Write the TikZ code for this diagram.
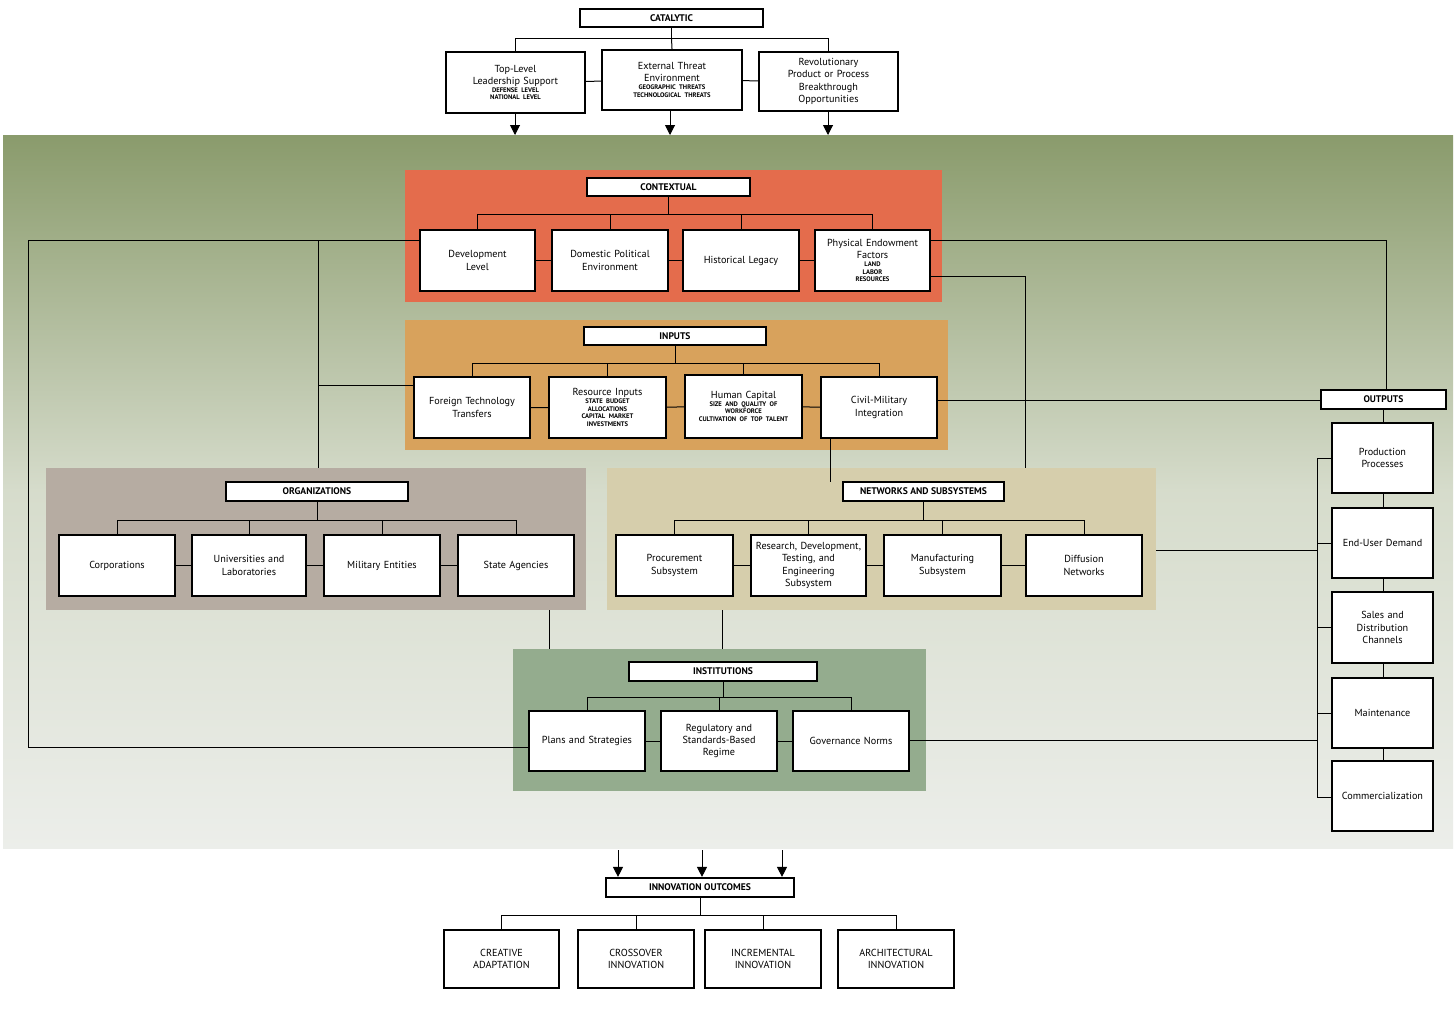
\documentclass[tikz,border=0pt]{standalone}
\usepackage{fontspec}
\setmainfont{PT Sans}
\usetikzlibrary{arrows.meta}
\hyphenpenalty=10000\relax
\definecolor{ctx}{RGB}{228,108,76}
\definecolor{inp}{RGB}{216,162,92}
\definecolor{org}{RGB}{182,172,162}
\definecolor{net}{RGB}{214,206,172}
\definecolor{ins}{RGB}{148,172,142}
\definecolor{olive}{RGB}{138,155,108}
\definecolor{pale}{RGB}{236,238,234}
\newcommand{\mybox}[6]{%
 \pgfmathsetmacro{\bw}{(#4-#2)*0.5}\pgfmathsetmacro{\bh}{(#5-#3)*0.5}%
 \node[box,minimum width=\bw pt,minimum height=\bh pt,text width=\bw pt] (#1) at ({(#2+#4)/2},{(#3+#5)/2}) {#6};}
\newcommand{\myhdr}[6]{%
 \pgfmathsetmacro{\bw}{(#4-#2)*0.5}\pgfmathsetmacro{\bh}{(#5-#3)*0.5}%
 \node[hdr,minimum width=\bw pt,minimum height=\bh pt] (#1) at ({(#2+#4)/2},{(#3+#5)/2}) {#6};}
\newcommand{\sm}[1]{\par{\fontsize{3.3}{3.9}\selectfont\bfseries #1\par}}
\begin{document}
\hyphenpenalty=10000\relax
\begin{tikzpicture}[x=0.5pt,y=-0.5pt,
 box/.style={draw,fill=white,line width=1.2pt,align=center,inner sep=0pt,font=\fontsize{5.1}{6.1}\selectfont},
 hdr/.style={draw,fill=white,line width=1.1pt,inner sep=0pt,font=\fontsize{4.8}{5.5}\selectfont\bfseries},
 ln/.style={line width=0.5pt},
 arr/.style={ln,-{Triangle[length=5pt,width=5pt]}}]
\useasboundingbox (0,0) rectangle (1456,1008);
\fill[white] (0,0) rectangle (1456,1008);
\shade[top color=olive,bottom color=pale,middle color=olive!35!white] (3,135) rectangle (1453,848);
% panels
\fill[ctx] (405,170) rectangle (942,302);
\fill[inp] (405,320) rectangle (948,450);
\fill[org] (46,468) rectangle (586,610);
\fill[net] (607,468) rectangle (1156,610);
\fill[ins] (513,649) rectangle (926,791);
% long connectors
\coordinate (L1) at (28,240); \coordinate (L2) at (28,747);
\coordinate (M1) at (318,240); \coordinate (M2) at (318,468); \coordinate (M3) at (318,385);
\coordinate (R1) at (1386,240);
\coordinate (P1) at (1025,276); \coordinate (P2) at (1025,468);
\draw[ln] (L2) -- (L1) -- (420,240);
\draw[ln] (M1) -- (M2); \draw[ln] (M3) -- (414,385);
\draw[ln] (930,240) -- (R1) -- (1386,390);
\draw[ln] (930,276) -- (P1) -- (P2);
\draw[ln] (937,400) -- (1321,400);
\draw[ln] (830,438) -- (830,482);
\draw[ln] (1156,550) -- (1317,550);
\draw[ln] (909,740) -- (1317,740);
\draw[ln] (28,747) -- (529,747);
\draw[ln] (549,610) -- (549,649); \draw[ln] (722,610) -- (722,649);
\draw[ln] (1317,458) -- (1317,797);
\foreach \y in {458,543,627,713,797} \draw[ln] (1317,\y) -- (1332,\y);
\draw[ln] (1383,409) -- (1383,761);
% catalytic
\myhdr{cat}{580}{9}{763}{27}{CATALYTIC}
\mybox{c1}{446}{52}{585}{113}{Top-Level\\Leadership Support\sm{DEFENSE LEVEL\\NATIONAL LEVEL}}
\mybox{c2}{602}{50}{742}{110}{External Threat\\Environment\sm{GEOGRAPHIC THREATS\\TECHNOLOGICAL THREATS}}
\mybox{c3}{759}{52}{898}{111}{Revolutionary\\Product or Process\\Breakthrough\\Opportunities}
\draw[ln] (cat.south) -- ++(0,10) coordinate (ct);
\draw[ln] (c1.north) |- (ct) -| (c3.north); \draw[ln] (ct) -- (c2.north);
\draw[ln] (c1) -- (c2) -- (c3);
\coordinate (a1) at (515,135); \coordinate (a2) at (670,135); \coordinate (a3) at (828,135);
\draw[arr] (c1.south -| a1) -- (a1); \draw[arr] (c2.south -| a2) -- (a2); \draw[arr] (c3.south -| a3) -- (a3);
% contextual
\myhdr{ctxh}{587}{178}{750}{196}{CONTEXTUAL}
\mybox{x1}{420}{230}{535}{291}{Development\\Level}
\mybox{x2}{552}{230}{668}{291}{Domestic Political\\Environment}
\mybox{x3}{683}{230}{799}{291}{Historical Legacy}
\mybox{x4}{815}{230}{930}{291}{Physical Endowment\\Factors\sm{LAND\\LABOR\\RESOURCES}}
\draw[ln] (ctxh.south) -- ++(0,17) coordinate (xt);
\draw[ln] (x1.north) |- (xt) -| (x4.north); \draw[ln] (x2.north) |- (xt); \draw[ln] (x3.north) |- (xt);
\draw[ln] (x1) -- (x2) -- (x3) -- (x4);
% inputs
\myhdr{inh}{584}{327}{766}{345}{INPUTS}
\mybox{i1}{414}{377}{530}{438}{Foreign Technology\\Transfers}
\mybox{i2}{549}{377}{666}{438}{Resource Inputs\sm{STATE BUDGET\\ALLOCATIONS\\CAPITAL MARKET\\INVESTMENTS}}
\mybox{i3}{685}{375}{802}{438}{Human Capital\sm{SIZE AND QUALITY OF\\WORKFORCE\\CULTIVATION OF TOP TALENT}}
\mybox{i4}{821}{377}{937}{438}{Civil-Military\\Integration}
\draw[ln] (inh.south) -- ++(0,17) coordinate (it);
\draw[ln] (i1.north) |- (it) -| (i4.north); \draw[ln] (i2.north) |- (it); \draw[ln] (i3.north) |- (it);
\draw[ln] (i1) -- (i2) -- (i3) -- (i4);
% organizations
\myhdr{orh}{226}{482}{408}{501}{ORGANIZATIONS}
\mybox{o1}{59}{535}{175}{596}{Corporations}
\mybox{o2}{192}{535}{306}{596}{Universities and\\Laboratories}
\mybox{o3}{324}{535}{440}{596}{Military Entities}
\mybox{o4}{458}{535}{574}{596}{State Agencies}
\draw[ln] (orh.south) -- ++(0,18) coordinate (ot);
\draw[ln] (o1.north) |- (ot) -| (o4.north); \draw[ln] (o2.north) |- (ot); \draw[ln] (o3.north) |- (ot);
\draw[ln] (o1) -- (o2) -- (o3) -- (o4);
% networks
\myhdr{neh}{843}{482}{1004}{501}{NETWORKS AND SUBSYSTEMS}
\mybox{n1}{616}{535}{733}{596}{Procurement\\Subsystem}
\mybox{n2}{751}{535}{866}{596}{Research, Development,\\Testing, and\\Engineering\\Subsystem}
\mybox{n3}{884}{535}{1001}{596}{Manufacturing\\Subsystem}
\mybox{n4}{1026}{535}{1142}{596}{Diffusion\\Networks}
\draw[ln] (neh.south) -- ++(0,18) coordinate (nt);
\draw[ln] (n1.north) |- (nt) -| (n4.north); \draw[ln] (n2.north) |- (nt); \draw[ln] (n3.north) |- (nt);
\draw[ln] (n1) -- (n2) -- (n3) -- (n4);
% institutions
\myhdr{inst}{629}{662}{817}{681}{INSTITUTIONS}
\mybox{s1}{529}{711}{645}{771}{Plans and Strategies}
\mybox{s2}{661}{711}{777}{771}{Regulatory and\\Standards-Based\\Regime}
\mybox{s3}{793}{711}{909}{771}{Governance Norms}
\draw[ln] (inst.south) -- ++(0,15) coordinate (st);
\draw[ln] (s1.north) |- (st) -| (s3.north); \draw[ln] (s2.north) |- (st);
\draw[ln] (s1) -- (s2) -- (s3);
% outputs
\myhdr{outh}{1321}{390}{1446}{409}{OUTPUTS}
\mybox{u1}{1332}{423}{1433}{493}{Production\\Processes}
\mybox{u2}{1332}{508}{1433}{578}{End-User Demand}
\mybox{u3}{1332}{592}{1433}{663}{Sales and\\Distribution\\Channels}
\mybox{u4}{1332}{678}{1433}{748}{Maintenance}
\mybox{u5}{1332}{761}{1433}{831}{Commercialization}
% outcomes
\myhdr{oc}{606}{878}{794}{897}{INNOVATION OUTCOMES}
\foreach \x/\n in {618/b1,702/b2,782/b3} {\coordinate (\n) at (\x,850); \draw[arr] (\n) -- (oc.north -| \n);}
\mybox{v1}{444}{930}{559}{988}{CREATIVE\\ADAPTATION}
\mybox{v2}{578}{930}{694}{988}{CROSSOVER\\INNOVATION}
\mybox{v3}{705}{930}{821}{988}{INCREMENTAL\\INNOVATION}
\mybox{v4}{838}{930}{954}{988}{ARCHITECTURAL\\INNOVATION}
\draw[ln] (oc.south) -- ++(0,17) coordinate (vt);
\draw[ln] (v1.north) |- (vt) -| (v4.north); \draw[ln] (v2.north) |- (vt); \draw[ln] (v3.north) |- (vt);
\end{tikzpicture}
\end{document}
